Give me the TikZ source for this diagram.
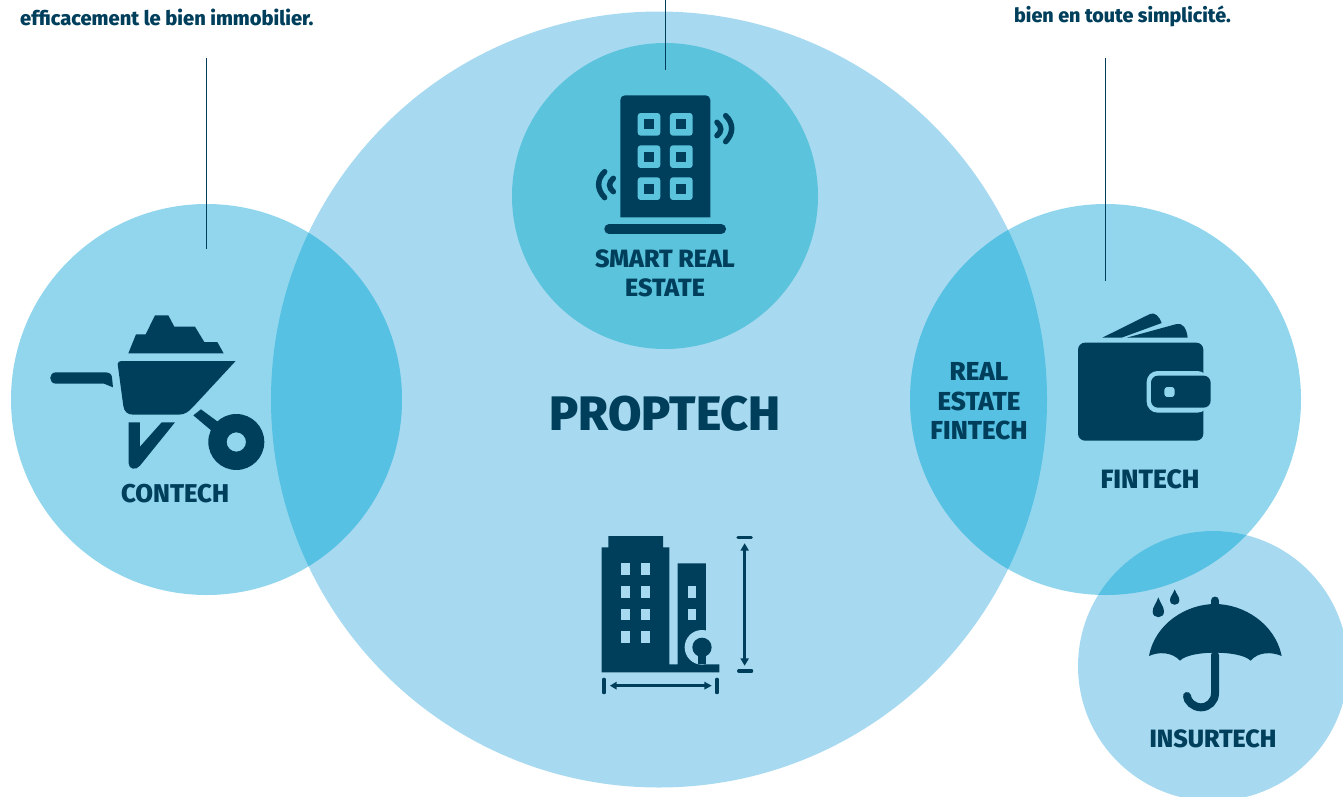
\documentclass[tikz,border=0pt]{standalone}
\usepackage{fontspec}
\setmainfont{Fira Sans}[BoldFont={Fira Sans ExtraBold}]
\definecolor{navy}{HTML}{003F5C}
\definecolor{propc}{HTML}{A7DAF0}
\definecolor{sidec}{HTML}{92D6EE}
\definecolor{overc}{HTML}{56C1E3}
\definecolor{smartc}{HTML}{5BC3DC}
\tikzset{
 icon/.style={fill=navy,draw=none},
 labeltext/.style={text=navy,font=\bfseries\fontsize{25}{30}\selectfont,align=center,inner sep=0pt},
 notetext/.style={text=navy,font=\bfseries\fontsize{20.1}{23}\selectfont,anchor=base west,inner sep=0pt},
 leader/.style={draw=navy,line width=1pt},
 bubble/.style={circle,draw=none,inner sep=0pt,minimum size=#1},
}
\begin{document}
\begin{tikzpicture}[x=1pt,y=-1pt]
\useasboundingbox (0,0) rectangle (1343,796);
\clip (0,0) rectangle (1343,796);
% circles
\node[bubble=776pt,fill=propc] (prop) at (659,399.5) {};
\node[bubble=391pt,fill=sidec] (con) at (206.5,399.5) {};
\node[bubble=391pt,fill=sidec] (fin) at (1105.5,399.5) {};
\node[bubble=270pt,fill=propc] (ins) at (1213,666) {};
\node[bubble=306pt,fill=smartc] (smart) at (665,196) {};
\begin{scope}
 \clip (659,399.5) circle (388);
 \fill[overc] (206.5,399.5) circle (195.5);
 \fill[overc] (1105.5,399.5) circle (195.5);
\end{scope}
\begin{scope}
 \clip (1105.5,399.5) circle (195.5);
 \fill[overc] (1213,666) circle (135);
\end{scope}
% leaders
\coordinate (l1a) at (206.5,58); \coordinate (l1b) at (206.5,249);
\coordinate (l2a) at (665,0); \coordinate (l2b) at (665,70);
\coordinate (l3a) at (1105,58); \coordinate (l3b) at (1105,281);
\draw[leader] (l1a) -- (l1b);
\draw[leader] (l2a) -- (l2b);
\draw[leader] (l3a) -- (l3b);
% texts
\node[notetext] (n1) at (20,25) {efficacement le bien immobilier.};
\node[notetext,font=\bfseries\fontsize{19.7}{23}\selectfont] (n2) at (1014,22) {bien en toute simplicité.};
\node[labeltext,font=\bfseries\fontsize{25.7}{30}\selectfont] (t1) at (175,494) {CONTECH};
\node[labeltext,font=\bfseries\fontsize{25}{29.5}\selectfont] (t2) at (665,273.5) {SMART REAL\\ESTATE};
\node[labeltext,font=\bfseries\fontsize{26}{29.5}\selectfont] (t3) at (979,401.5) {REAL\\ESTATE\\FINTECH};
\node[labeltext,font=\bfseries\fontsize{26.5}{30}\selectfont] (t4) at (1150,479) {FINTECH};
\node[labeltext] (t5) at (1213,739) {INSURTECH};
\node[labeltext,font=\bfseries\fontsize{48.4}{58}\selectfont] (t6) at (665,414) {PROPTECH};
% wheelbarrow
\begin{scope}[shift={(30,300)},x=0.3333pt,y=-0.3333pt]
 \fill[icon] (295,160)--(318,103)--(347,103)--(375,46)--(415,46)--(433,80)--(495,80)--(523,126)--(562,126)--(581,160)--cycle;
 \fill[icon] (263,192) .. controls (263,186) and (268,183) .. (275,183) -- (617,183) -- (490,320) .. controls (475,336) and (465,344) .. (445,344) -- (310,344) .. controls (292,344) and (283,335) .. (280,318) -- cycle;
 \fill[icon] (78,217) -- (225,217) .. controls (238,217) and (245,222) .. (246,232) -- (249,262) -- (222,251) -- (78,251) .. controls (55,251) and (55,217) .. (78,217) -- cycle;
 \fill[icon] (296,367) -- (330,367) -- (330,440) -- (395,367) -- (435,367) -- (330,497) .. controls (318,512) and (296,508) .. (296,490) -- cycle;
 \fill[icon] (490,346) -- (513,328) -- (570,370) -- (548,395) -- cycle;
 \fill[icon,even odd rule] (619,426) circle (84) (619,426) circle (29);
\end{scope}
% smart building
\begin{scope}[shift={(570,80)},x=0.3333pt,y=-0.3333pt]
 \fill[icon] (151,412) -- (151,60) .. controls (151,52) and (157,46) .. (165,46) -- (407,46) .. controls (415,46) and (421,52) .. (421,60) -- (421,412) -- cycle;
 \foreach \cx in {237,334} \foreach \cy in {133,230,326} {
  \fill[smartc,rounded corners=3pt] (\cx-34,\cy-34) rectangle (\cx+34,\cy+34);
  \fill[navy] (\cx-15,\cy-15) rectangle (\cx+15,\cy+15);
 }
 \draw[navy,line width=9.5pt,line cap=round] (117,447) -- (454,447);
 \draw[navy,line width=5.5pt,line cap=round] (441,127) .. controls (456,140) and (456,155) .. (441,167);
 \draw[navy,line width=5.5pt,line cap=round] (467,107) .. controls (491,130) and (491,160) .. (467,185);
 \draw[navy,line width=5.5pt,line cap=round] (130,295) .. controls (115,308) and (115,323) .. (130,335);
 \draw[navy,line width=5.5pt,line cap=round] (104,275) .. controls (80,298) and (80,328) .. (104,353);
\end{scope}
% proptech building
\begin{scope}[shift={(580,520)},x=0.3333pt,y=-0.3333pt]
 \fill[icon] (65,82)--(85,82)--(85,48)--(249,48)--(249,82)--(268,82)--(268,433)--(293,433)--(293,130)--(378,130)--(378,433)--(418,433)--(418,457)--(65,457)--cycle;
 \foreach \wx in {124,184} \foreach \wy in {130,198,266,334}
  \fill[propc] (\wx,\wy) rectangle (\wx+25,\wy+35);
 \foreach \wy in {198,266}
  \fill[propc] (323,\wy) rectangle (348,\wy+35);
 \begin{scope}
  \clip (300,320) rectangle (378,433);
  \fill[propc] (366,382) circle (52);
 \end{scope}
 \fill[icon] (366,382) circle (29);
 \fill[icon] (355,400) rectangle (378,433);
 \draw[navy,line width=2.6pt] (105,497) -- (380,497);
 \fill[icon] (90,497) -- (110,485) -- (110,509) -- cycle;
 \fill[icon] (395,497) -- (373,485) -- (373,509) -- cycle;
 \draw[navy,line width=3.2pt,line cap=round] (72,478) -- (72,518);
 \draw[navy,line width=3.2pt,line cap=round] (411,478) -- (411,518);
 \draw[navy,line width=3.4pt] (494,85) -- (494,422);
 \fill[icon] (494,70) -- (481,92) -- (507,92) -- cycle;
 \fill[icon] (494,437) -- (481,415) -- (507,415) -- cycle;
 \draw[navy,line width=3.2pt,line cap=round] (474,52) -- (514,52);
 \draw[navy,line width=3.2pt,line cap=round] (476,453) -- (515,453);
\end{scope}
% wallet
\begin{scope}[shift={(1060,300)},x=0.3333pt,y=-0.3333pt]
 \fill[icon] (127,113) -- (270,42) .. controls (285,36) and (297,48) .. (305,69) -- (185,113) -- cycle;
 \fill[icon] (200,113) -- (350,72) .. controls (368,68) and (380,85) .. (383,113) -- cycle;
 \fill[icon,rounded corners=7pt] (54,128) rectangle (430,422);
 \fill[sidec,rounded corners=11pt] (260,213) rectangle (445,338);
 \fill[icon,rounded corners=7pt] (273,227) rectangle (452,323);
 \fill[sidec,rounded corners=3pt] (313,261) rectangle (344,291);
\end{scope}
% umbrella
\begin{scope}[shift={(1130,580)},x=0.3333pt,y=-0.3333pt]
 \fill[icon] (57,228) .. controls (75,130) and (170,72) .. (255,72) .. controls (340,72) and (435,130) .. (455,228) .. controls (425,215) and (385,215) .. (362,242) .. controls (330,210) and (180,210) .. (150,242) .. controls (125,215) and (85,215) .. (57,228) -- cycle;
 \draw[navy,line width=7.5pt,line cap=round] (255,61) -- (255,80);
 \draw[navy,line width=8pt,line cap=round] (255,225) -- (255,340) .. controls (255,363) and (236,382) .. (213,382) .. controls (190,382) and (171,363) .. (171,348);
 \fill[icon] (85,52) .. controls (92,72) and (102,80) .. (102,95) .. controls (102,117) and (68,117) .. (68,95) .. controls (68,80) and (78,72) .. (85,52) -- cycle;
 \fill[icon] (134,28) .. controls (139,42) and (148,50) .. (148,60) .. controls (148,79) and (120,79) .. (120,60) .. controls (120,50) and (129,42) .. (134,28) -- cycle;
\end{scope}
\end{tikzpicture}
\end{document}
